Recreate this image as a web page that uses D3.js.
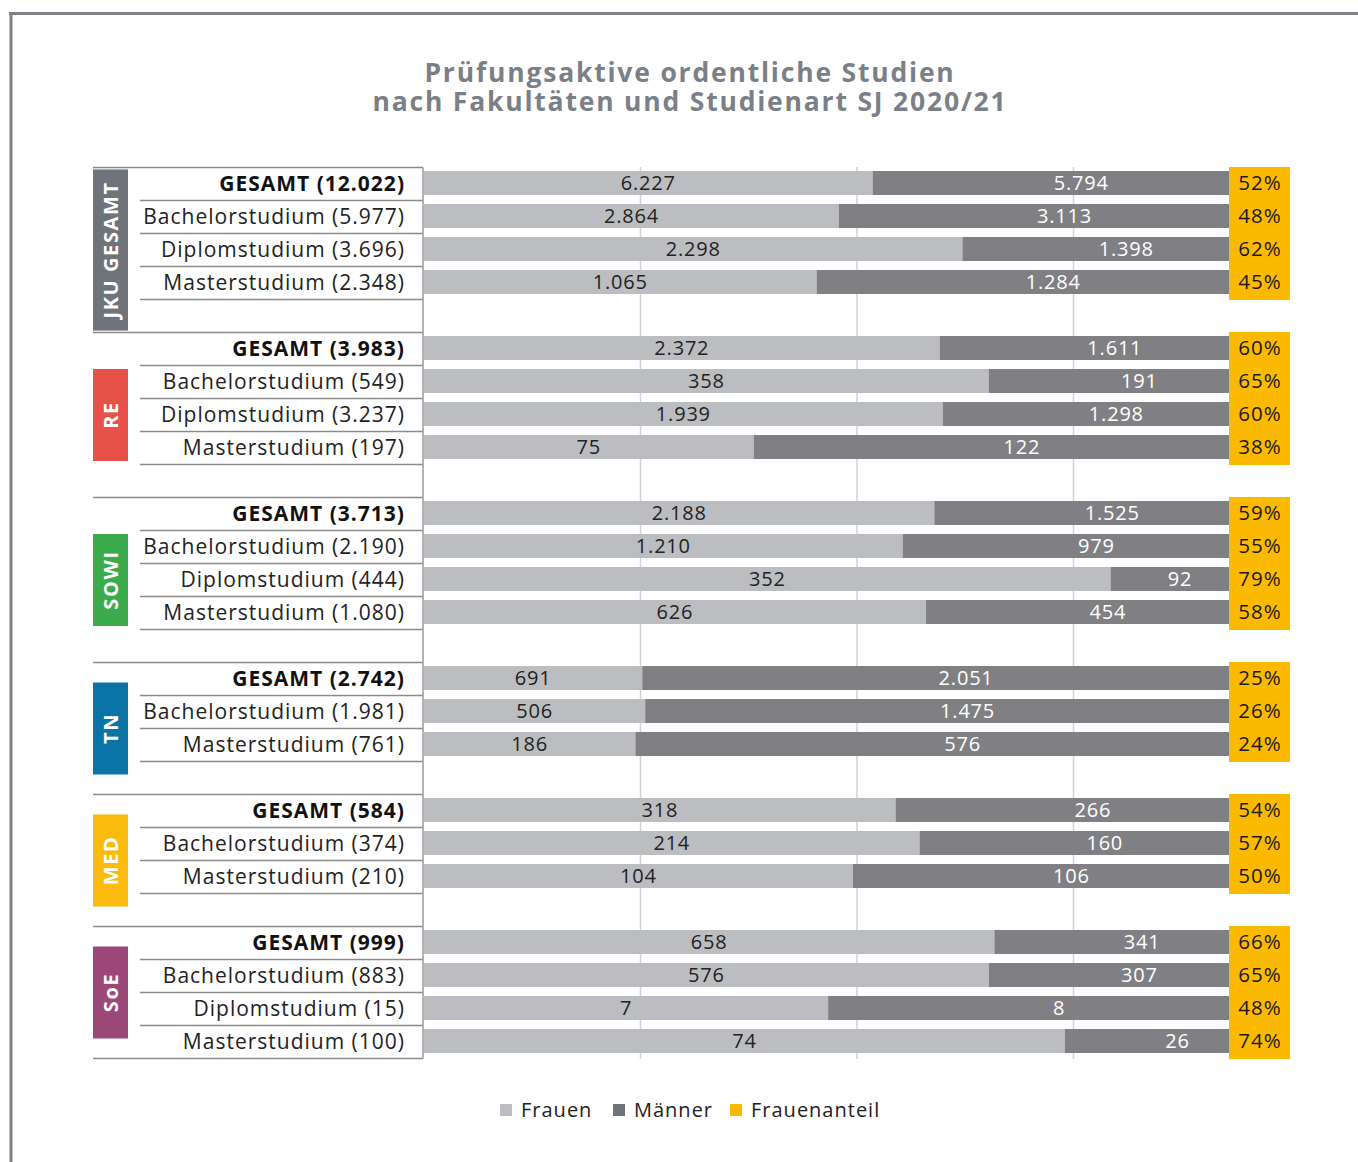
<!DOCTYPE html>
<html>
<head>
<meta charset="utf-8">
<script src="https://cdn.jsdelivr.net/npm/d3@7"></script>
<style>
  body { margin: 0; background: #fff; }
  svg { display: block; font-family: "Open Sans", "Lato", sans-serif; }
</style>
</head>
<body>
<svg id="chart" width="1358" height="1162"></svg>
<script>
// faculties and their colours
const groups = ["JKU GESAMT", "RE", "SOWI", "TN", "MED", "SoE"];
const groupColors = ["#6f747a", "#e8504a", "#3bab4b", "#0b74a6", "#fbbb0e", "#9b4878"];

// one entry per bar
const rowGroup = [
  "JKU GESAMT", "JKU GESAMT", "JKU GESAMT", "JKU GESAMT",
  "RE", "RE", "RE", "RE",
  "SOWI", "SOWI", "SOWI", "SOWI",
  "TN", "TN", "TN",
  "MED", "MED", "MED",
  "SoE", "SoE", "SoE", "SoE"
];
const rowType = [
  "GESAMT", "Bachelorstudium", "Diplomstudium", "Masterstudium",
  "GESAMT", "Bachelorstudium", "Diplomstudium", "Masterstudium",
  "GESAMT", "Bachelorstudium", "Diplomstudium", "Masterstudium",
  "GESAMT", "Bachelorstudium", "Masterstudium",
  "GESAMT", "Bachelorstudium", "Masterstudium",
  "GESAMT", "Bachelorstudium", "Diplomstudium", "Masterstudium"
];
const rowTotal = [12022, 5977, 3696, 2348, 3983, 549, 3237, 197, 3713, 2190, 444, 1080,
                  2742, 1981, 761, 584, 374, 210, 999, 883, 15, 100];
const frauen   = [6227, 2864, 2298, 1065, 2372, 358, 1939, 75, 2188, 1210, 352, 626,
                  691, 506, 186, 318, 214, 104, 658, 576, 7, 74];
const maenner  = [5794, 3113, 1398, 1284, 1611, 191, 1298, 122, 1525, 979, 92, 454,
                  2051, 1475, 576, 266, 160, 106, 341, 307, 8, 26];
const anteil   = [52, 48, 62, 45, 60, 65, 60, 38, 59, 55, 79, 58,
                  25, 26, 24, 54, 57, 50, 66, 65, 48, 74];

const gridTicks = [0.25, 0.5, 0.75];
const legendItems = ["Frauen", "Männer", "Frauenanteil"];

const fmt = d3.formatLocale({decimal: ",", thousands: ".", grouping: [3], currency: ["", "€"]}).format(",d");

const colF = "#bcbdc1", colM = "#808084", colGold = "#fbb900", lineCol = "#8c8c8c";

const rows = rowGroup.map((g, i) => ({
  group: g, type: rowType[i], total: rowTotal[i],
  f: frauen[i], m: maenner[i], pct: anteil[i], key: "r" + i
}));

// slots: data rows plus one empty row after each group except the last
const slots = [];
groups.forEach((g, gi) => {
  rows.filter(r => r.group === g).forEach(r => slots.push(r.key));
  if (gi < groups.length - 1) slots.push("gap" + gi);
});

const svg = d3.select("#chart");

const x = d3.scaleLinear().domain([0, 1]).range([424, 1290]);
const y = d3.scaleBand().domain(slots).range([167.5, 1058.5]).padding(0);
const step = y.step();
const labelRight = 405, shortLeft = 140, boxLeft = 93, axisX = 423;
const boxRight = 1229;

// frame
svg.append("line").attr("x1", 9).attr("x2", 1358).attr("y1", 13.5).attr("y2", 13.5)
  .style("stroke", "#7d8186").style("stroke-width", 3);
svg.append("line").attr("x1", 11).attr("x2", 11).attr("y1", 12).attr("y2", 1162)
  .style("stroke", "#7d8186").style("stroke-width", 3);

// title
const title = svg.append("text").attr("text-anchor", "middle")
  .style("font-weight", 700).style("letter-spacing", "1.8px")
  .style("font-size", "26.5px").style("fill", "#7b8087");
title.append("tspan").attr("x", 690).attr("y", 82).text("Prüfungsaktive ordentliche Studien");
title.append("tspan").attr("x", 690).attr("y", 111).text("nach Fakultäten und Studienart SJ 2020/21");

// gridlines
svg.append("g").selectAll("line").data(gridTicks).enter().append("line")
  .attr("x1", d => x(d)).attr("x2", d => x(d))
  .attr("y1", 167).attr("y2", 1059)
  .style("stroke", "#d2d2d2").style("stroke-width", 1.5);

// bars
const barTop = 3.5, barH = 24;
const barG = svg.append("g").style("font-size", "20px").style("letter-spacing", "0.8px");
rows.forEach(r => {
  const share = r.f / (r.f + r.m);
  const yy = y(r.key) + barTop;
  barG.append("rect").attr("x", x(0)).attr("y", yy)
    .attr("width", x(share) - x(0)).attr("height", barH).style("fill", colF);
  barG.append("rect").attr("x", x(share)).attr("y", yy)
    .attr("width", x(1) - x(share)).attr("height", barH).style("fill", colM);
  barG.append("text").attr("x", (x(0) + x(share)) / 2).attr("y", yy + barH / 2)
    .attr("dy", "0.36em").attr("text-anchor", "middle")
    .style("fill", "#222").text(fmt(r.f));
  barG.append("text").attr("x", Math.min((x(share) + x(1)) / 2, 1180)).attr("y", yy + barH / 2)
    .attr("dy", "0.36em").attr("text-anchor", "middle")
    .style("fill", "#fff").text(fmt(r.m));
});

// Frauenanteil boxes, one per group
const gold = svg.append("g");
groups.forEach(g => {
  const gr = rows.filter(r => r.group === g);
  const top = y(gr[0].key);
  const bottom = y(gr[gr.length - 1].key) + step;
  gold.append("rect").attr("x", boxRight).attr("y", top - 0.5)
    .attr("width", x(1) - boxRight).attr("height", bottom - top + 1)
    .style("fill", colGold);
});
gold.selectAll("text").data(rows).enter().append("text")
  .attr("x", (boxRight + x(1)) / 2 + 0.5).attr("y", d => y(d.key) + barTop + barH / 2)
  .attr("dy", "0.36em").attr("text-anchor", "middle")
  .style("font-size", "20.5px").style("letter-spacing", "1px").style("fill", "#1a1a1a")
  .text(d => d.pct + "%");

// row labels
svg.append("g").selectAll("text").data(rows).enter().append("text")
  .attr("x", labelRight).attr("y", d => y(d.key) + barTop + barH / 2)
  .attr("dy", "0.36em").attr("text-anchor", "end")
  .style("font-size", "21px").style("letter-spacing", "1px")
  .style("font-weight", d => d.type === "GESAMT" ? 700 : 400)
  .style("fill", d => d.type === "GESAMT" ? "#111" : "#222")
  .text(d => `${d.type} (${fmt(d.total)})`);

// separator lines
const lines = svg.append("g").style("stroke", lineCol).style("stroke-width", 1.5);
groups.forEach((g, gi) => {
  const gr = rows.filter(r => r.group === g);
  const top = y(gr[0].key);
  lines.append("line").attr("x1", boxLeft).attr("x2", axisX).attr("y1", top).attr("y2", top);
  gr.forEach((r, ri) => {
    const yb = y(r.key) + step;
    const full = gi === groups.length - 1 && ri === gr.length - 1;
    lines.append("line").attr("x1", full ? boxLeft : shortLeft).attr("x2", axisX)
      .attr("y1", yb).attr("y2", yb);
  });
});
lines.append("line").attr("x1", axisX).attr("x2", axisX)
  .attr("y1", y.range()[0]).attr("y2", y.range()[1])
  .style("stroke", "#9a9a9a");

// faculty tags
const tagG = svg.append("g");
groups.forEach((g, gi) => {
  const gr = rows.filter(r => r.group === g);
  const top = y(gr[0].key);
  const end = gi < groups.length - 1 ? y("gap" + gi) + step : y(gr[gr.length - 1].key) + step;
  const span = end - top;
  const mid = top + span / 2;
  const txt = tagG.append("text")
    .attr("transform", `translate(${boxLeft + 17.5},${mid}) rotate(-90)`)
    .attr("dy", "0.36em").attr("text-anchor", "middle")
    .style("font-size", "20px").style("font-weight", 700).style("fill", "#fff")
    .style("letter-spacing", "1.6px")
    .text(g);
  const len = txt.node().getComputedTextLength();
  const h = Math.min(span - 1, Math.max(92, len + 24));
  tagG.insert("rect", "text").attr("x", boxLeft).attr("y", mid - h / 2)
    .attr("width", 35).attr("height", h).style("fill", groupColors[gi]);
});

// legend
const legendColors = [colF, "#6f747a", colGold];
const legendX = [500, 613, 730];
const leg = svg.append("g");
legendItems.forEach((d, i) => {
  leg.append("rect").attr("x", legendX[i]).attr("y", 1104).attr("width", 12).attr("height", 12)
    .style("fill", legendColors[i]);
  leg.append("text").attr("x", legendX[i] + 21).attr("y", 1110).attr("dy", "0.36em")
    .style("font-size", "20px").style("letter-spacing", "1px").style("fill", "#222").text(d);
});
</script>
</body>
</html>
